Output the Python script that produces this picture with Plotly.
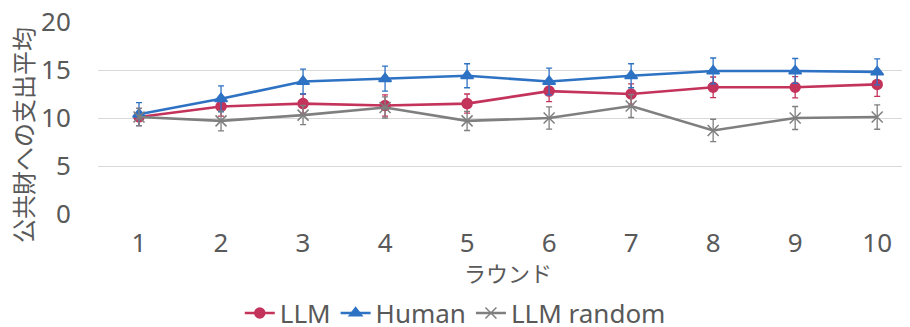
import plotly.graph_objects as go

rounds = [1, 2, 3, 4, 5, 6, 7, 8, 9, 10]
tick_labels = ["1", "2", "3", "4", "5", "6", "7", "8", "9", "10"]

llm = [10.1, 11.2, 11.5, 11.3, 11.5, 12.8, 12.5, 13.2, 13.2, 13.5]
llm_err = [0.9, 1.0, 1.0, 1.1, 1.0, 1.1, 1.05, 1.07, 1.1, 1.25]

human = [10.4, 12.0, 13.8, 14.1, 14.4, 13.8, 14.4, 14.9, 14.9, 14.8]
human_err = [1.2, 1.35, 1.3, 1.3, 1.25, 1.4, 1.25, 1.35, 1.3, 1.35]

llm_random = [10.1, 9.7, 10.3, 11.1, 9.7, 10.0, 11.25, 8.7, 10.0, 10.1]
llm_random_err = [0.9, 1.05, 1.0, 1.1, 1.0, 1.15, 1.2, 1.17, 1.2, 1.27]

RED = "#C3335B"
BLUE = "#2E72C4"
GRAY = "#7F7F7F"
TXT = "#595959"
FONT = "Noto Sans, Noto Sans CJK JP"

fig = go.Figure()

def add(name, y, err, color, symbol, size):
    fig.add_trace(go.Scatter(
        x=rounds, y=y, name=name, mode="lines+markers",
        line=dict(color=color, width=2.6),
        marker=dict(color=color, symbol=symbol, size=size,
                    line=dict(color=color, width=1.5)),
        error_y=dict(type="data", array=err, visible=True,
                     color=color, thickness=1.3, width=3),
    ))

add("LLM", llm, llm_err, RED, "circle", 10)
add("Human", human, human_err, BLUE, "triangle-up", 11)
add("LLM random", llm_random, llm_random_err, GRAY, "x-thin", 11)

fig.update_layout(
    width=910, height=327,
    margin=dict(l=90, r=8, t=14, b=121, autoexpand=False),
    paper_bgcolor="white", plot_bgcolor="white",
    font=dict(family=FONT, color=TXT, size=24),
    showlegend=True,
    legend=dict(orientation="h", x=0.44, xanchor="center", y=-0.516, yanchor="middle",
                font=dict(size=26, color=TXT), itemwidth=30, tracegroupgap=0,
                bgcolor="rgba(0,0,0,0)"),
    xaxis=dict(
        range=[0.5, 10.4], tickmode="array", tickvals=rounds, ticktext=tick_labels,
        showgrid=False, zeroline=False, showline=False, automargin=False,
        ticks="outside", ticklen=6, tickcolor="rgba(0,0,0,0)",
        tickfont=dict(size=26, color=TXT, family=FONT),
    ),
    yaxis=dict(
        range=[0, 20], tickvals=[0, 5, 10, 15, 20],
        showgrid=True, gridcolor="#D9D9D9", gridwidth=1.3,
        zeroline=False, showline=False, automargin=False,
        ticklabeloverflow="allow",
        ticks="outside", ticklen=21, tickcolor="rgba(0,0,0,0)",
        tickfont=dict(size=26, color=TXT, family=FONT),
    ),
    annotations=[
        dict(text="公共財への支出平均", textangle=-90, showarrow=False,
             xref="paper", yref="paper", x=-0.0937, y=(206 - 127) / 192,
             xanchor="center", yanchor="middle",
             font=dict(size=24, color=TXT, family="Noto Sans CJK JP")),
        dict(text="ラウンド", showarrow=False,
             xref="paper", yref="paper", x=(500 - 90) / 812, y=(206 - 264) / 192,
             xanchor="center", yanchor="middle",
             font=dict(size=22, color=TXT, family="Noto Sans CJK JP")),
    ],
)

fig.write_html("out.html")
